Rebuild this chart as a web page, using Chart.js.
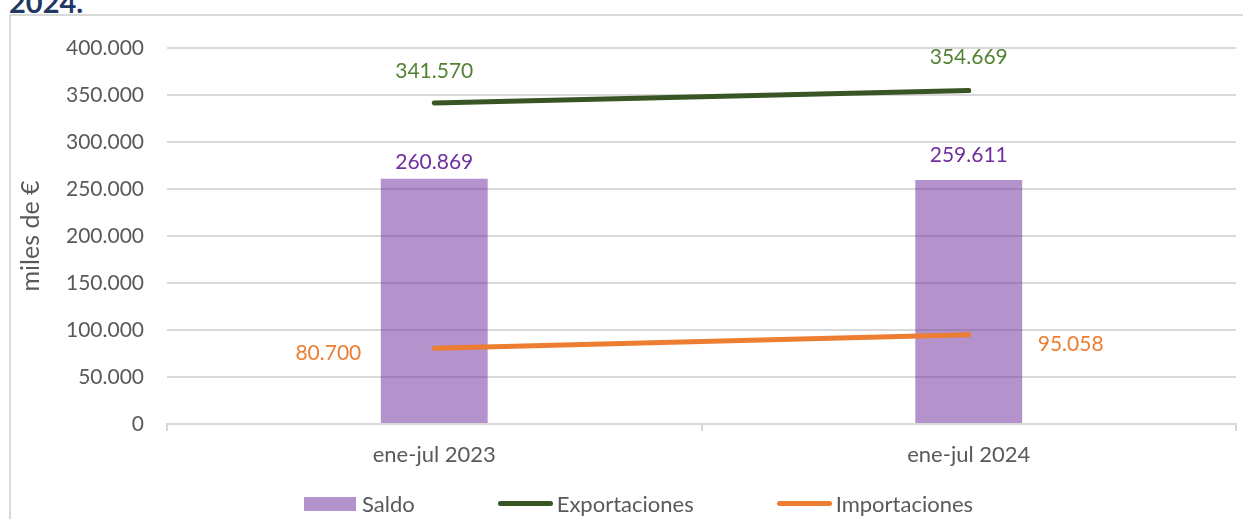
<!DOCTYPE html>
<html lang="es">
<head>
<meta charset="utf-8">
<title>Saldo comercial ene-jul 2023 / 2024</title>
<script src="https://cdn.jsdelivr.net/npm/chart.js@4.4.1/dist/chart.umd.min.js"></script>
<style>
    html, body { margin: 0; padding: 0; background: #fff; overflow: hidden; }
    body { width: 1243px; height: 519px; position: relative; font-family: Lato, sans-serif; }
    #title { position: absolute; left: 9px; top: -16px; font: bold 29px Lato, sans-serif; color: #1f3864; }
    #frame { position: absolute; left: 9px; top: 14px; width: 1300px; height: 600px; border: 2px solid #d9d9d9; box-sizing: border-box; }
    #wrap { position: absolute; left: 0; top: 0; width: 1243px; height: 519px; }
    #legend { position: absolute; left: 304px; top: 490px; display: flex; align-items: center; font-size: 22px; color: #595959; }
    .item { display: flex; align-items: center; margin-right: 83px; }
</style>
</head>
<body>
<div id="title">2024.</div>
<div id="frame"></div>
<div id="wrap"><canvas id="chart"></canvas></div>
<div id="legend"></div>
<script>
const categories = ['ene-jul 2023', 'ene-jul 2024'];
const saldo = [260869, 259611];
const exportaciones = [341570, 354669];
const importaciones = [80700, 95058];

const gray = '#595959';
const gridColor = '#d9d9d9';
const font = { family: 'Lato, sans-serif', size: 21 };

function fmt(v) {
    return String(Math.round(v)).replace(/\B(?=(\d{3})+(?!\d))/g, '.');
}

// dibuja las etiquetas de valor junto a cada barra / punto
const valueLabels = {
    id: 'valueLabels',
    afterDatasetsDraw(chart) {
        const ctx = chart.ctx;
        ctx.save();
        ctx.font = `${font.size}px ${font.family}`;
        ctx.textBaseline = 'middle';
        chart.data.datasets.forEach((ds, i) => {
            const meta = chart.getDatasetMeta(i);
            meta.data.forEach((el, j) => {
                const off = ds.labelOffsets[j];
                ctx.fillStyle = ds.labelColor;
                ctx.textAlign = off.align || 'center';
                ctx.fillText(fmt(ds.data[j]), el.x + off.dx, el.y + off.dy);
            });
        });
        ctx.restore();
    }
};

const ctx = document.getElementById('chart').getContext('2d');
const chart = new Chart(ctx, {
    type: 'bar',
    data: {
        labels: categories,
        datasets: [
            {
                type: 'line',
                label: 'Exportaciones',
                data: exportaciones,
                borderColor: '#375623',
                backgroundColor: '#375623',
                borderWidth: 5,
                borderCapStyle: 'round',
                pointRadius: 0,
                order: 1,
                labelColor: '#548235',
                labelOffsets: [{ dx: 0, dy: -32 }, { dx: 0, dy: -33 }]
            },
            {
                type: 'line',
                label: 'Importaciones',
                data: importaciones,
                borderColor: '#ed7d31',
                backgroundColor: '#ed7d31',
                borderWidth: 5,
                borderCapStyle: 'round',
                pointRadius: 0,
                order: 1,
                labelColor: '#ed7d31',
                labelOffsets: [{ dx: -73, dy: 5, align: 'right' }, { dx: 69, dy: 10, align: 'left' }]
            },
            {
                label: 'Saldo',
                data: saldo,
                backgroundColor: 'rgba(112, 48, 160, 0.52)',
                barPercentage: 0.2,
                categoryPercentage: 1,
                order: 2,
                labelColor: '#7030a0',
                labelOffsets: [{ dx: 0, dy: -17 }, { dx: 0, dy: -25 }]
            }
        ]
    },
    options: {
        responsive: true,
        maintainAspectRatio: false,
        animation: false,
        layout: { padding: { left: 14, right: 7, top: 48, bottom: 45 } },
        plugins: {
            legend: { display: false },
            tooltip: { enabled: false }
        },
        scales: {
            x: {
                offset: true,
                grid: { display: true, drawOnChartArea: false, drawTicks: true, tickLength: 7, color: gridColor, lineWidth: 2, offset: true },
                border: { display: true, color: gridColor, width: 2 },
                ticks: { color: gray, font: { family: font.family, size: 22 }, padding: 11 },
                afterFit: (s) => { s.height = 50; }
            },
            y: {
                min: 0,
                max: 400000,
                ticks: { stepSize: 50000, color: gray, font, padding: 23, callback: (v) => fmt(v) },
                grid: { color: gridColor, lineWidth: 2, drawTicks: false },
                border: { display: false },
                title: { display: true, text: 'miles de €', color: gray, font: { family: font.family, size: 25 }, padding: { top: 2, bottom: 0 } },
                afterFit: (s) => { s.width = 153; }
            }
        }
    },
    plugins: [valueLabels]
});

// leyenda en HTML con los colores de los datasets
const legend = document.getElementById('legend');
['Saldo', 'Exportaciones', 'Importaciones'].forEach((name) => {
    const ds = chart.data.datasets.find(d => d.label === name);
    const item = document.createElement('div');
    item.className = 'item';
    const sw = document.createElement('span');
    if (ds.type === 'line') {
        sw.style.cssText = `display:inline-block;width:55px;height:5px;border-radius:3px;margin-right:4px;background:${ds.borderColor}`;
    } else {
        sw.style.cssText = `display:inline-block;width:52px;height:14px;margin-right:6px;background:${ds.backgroundColor}`;
    }
    item.appendChild(sw);
    item.appendChild(document.createTextNode(name));
    legend.appendChild(item);
});
</script>
</body>
</html>
